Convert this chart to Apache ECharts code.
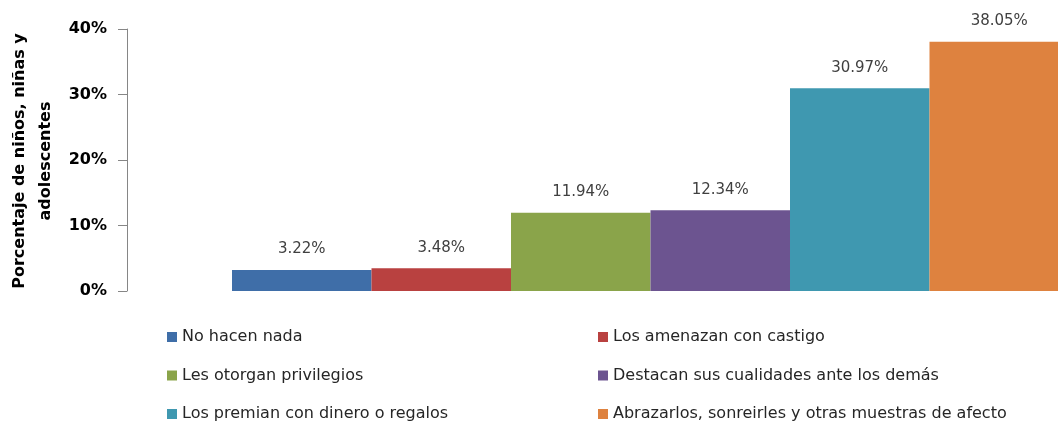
<!DOCTYPE html>
<html>
<head>
<meta charset="utf-8">
<script src="https://cdn.jsdelivr.net/npm/echarts@6/dist/echarts.min.js"></script>
<style>
html,body{margin:0;padding:0;background:#fff;}
#chart{width:1058px;height:423px;}
</style>
</head>
<body>
<div id="chart"></div>
<script>
const categories = [''];
const seriesNames = [
  'No hacen nada',
  'Los amenazan con castigo',
  'Les otorgan privilegios',
  'Destacan sus cualidades ante los demás',
  'Los premian con dinero o regalos',
  'Abrazarlos, sonreirles y otras muestras de afecto'
];
const seriesValues = [3.22, 3.48, 11.94, 12.34, 30.97, 38.05];
const seriesColors = ['#3f6ea8', '#b94140', '#8aa44a', '#6c5490', '#3f98b0', '#de823f'];
const yTicks = [0, 10, 20, 30, 40];
const yTitle = 'Porcentaje de niños, niñas y\nadolescentes';

const chart = echarts.init(document.getElementById('chart'));
const font = '"DejaVu Sans", sans-serif';

const series = seriesNames.map((name, i) => ({
  name: name,
  type: 'bar',
  data: [seriesValues[i]],
  barGap: '0%',
  barWidth: 139.5,
  clip: false,
  itemStyle: { color: seriesColors[i] },
  label: {
    show: true,
    position: 'top',
    distance: 13,
    formatter: p => p.value.toFixed(2) + '%',
    fontFamily: font,
    fontSize: 15,
    color: '#404040'
  }
}));

const legendCommon = {
  orient: 'vertical',
  icon: 'rect',
  itemWidth: 10,
  itemHeight: 10,
  itemGap: 20.5,
  top: 328,
  height: 95,
  padding: 0,
  textStyle: { fontFamily: font, fontSize: 16, color: '#262626', lineHeight: 18, padding: [0, 0, 0, 0] }
};

chart.setOption({
  animation: false,
  backgroundColor: '#ffffff',
  grid: { left: 243, top: 29, right: 0, bottom: 132, containLabel: false },
  xAxis: {
    type: 'category',
    data: categories,
    axisLine: { show: false },
    axisTick: { show: false },
    axisLabel: { show: false }
  },
  yAxis: {
    type: 'value',
    offset: 116,
    min: yTicks[0],
    max: yTicks[yTicks.length - 1],
    interval: 10,
    axisLine: { show: true, lineStyle: { color: '#868686', width: 1 } },
    axisTick: { show: true, length: 9, lineStyle: { color: '#868686' } },
    splitLine: { show: false },
    axisLabel: {
      margin: 20,
      formatter: v => v + '%',
      fontFamily: font,
      fontSize: 16,
      fontWeight: 'bold',
      color: '#000'
    }
  },
  legend: [
    Object.assign({ left: 167, data: [seriesNames[0], seriesNames[2], seriesNames[4]] }, legendCommon),
    Object.assign({ left: 598, data: [seriesNames[1], seriesNames[3], seriesNames[5]] }, legendCommon)
  ],
  graphic: [{
    type: 'text',
    x: 33,
    y: 161,
    rotation: Math.PI / 2,
    style: {
      text: yTitle,
      align: 'center',
      verticalAlign: 'middle',
      fontFamily: font,
      fontSize: 16,
      fontWeight: 'bold',
      lineHeight: 26,
      fill: '#000'
    }
  }],
  series: series
});
</script>
</body>
</html>
